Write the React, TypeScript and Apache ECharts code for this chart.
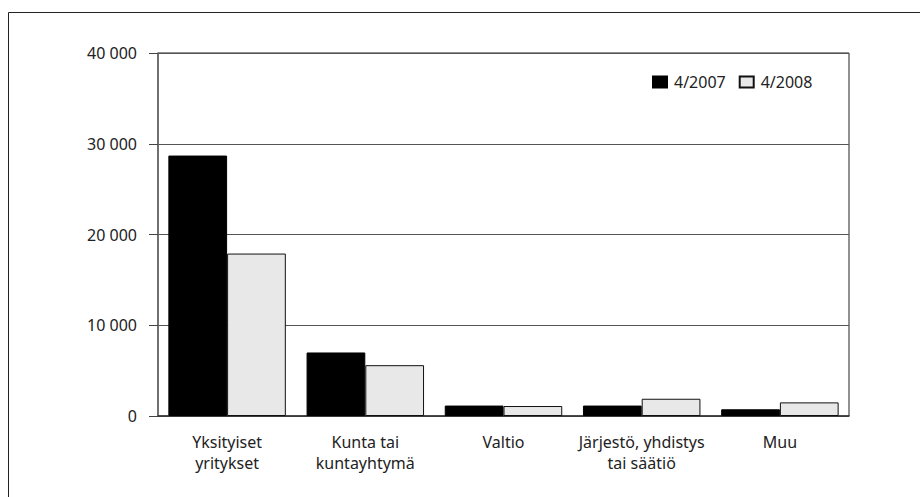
import React, { useEffect, useRef } from "react";
import * as echarts from "echarts";

const categories = [
  "Yksityiset\nyritykset",
  "Kunta tai\nkuntayhtymä",
  "Valtio",
  "Järjestö, yhdistys\ntai säätiö",
  "Muu",
];
const seriesNames = ["4/2007", "4/2008"];
const values2007 = [28700, 7000, 1150, 1150, 740];
const values2008 = [17900, 5600, 1100, 1900, 1500];

const FONT = "'Noto Sans', 'Open Sans', sans-serif";

export default function App() {
  const ref = useRef<HTMLDivElement>(null);
  useEffect(() => {
    document.body.style.margin = "0";
    const chart = echarts.init(ref.current!, null, { renderer: "svg" });
    chart.setOption({
      animation: false,
      backgroundColor: "#ffffff",
      textStyle: { fontFamily: FONT },
      graphic: [
        {
          type: "rect",
          shape: { x: 8.5, y: 12.5, width: 940, height: 520 },
          style: { fill: "none", stroke: "#222", lineWidth: 1 },
          silent: true,
        },
      ],
      legend: {
        left: 652,
        top: 74,
        padding: 0,
        itemWidth: 14,
        itemHeight: 11,
        itemGap: 13,
        icon: "rect",
        textStyle: { fontSize: 16, color: "#222", fontFamily: FONT, padding: [0, 0, 0, 2] },
        data: seriesNames,
      },
      grid: {
        left: 158,
        right: 71,
        top: 53,
        bottom: 81,
        show: true,
        borderColor: "#222",
        borderWidth: 1,
        containLabel: false,
      },
      xAxis: {
        type: "category",
        data: categories,
        axisTick: { show: false },
        axisLine: { lineStyle: { color: "#333", width: 1.5 } },
        axisLabel: {
          fontSize: 16,
          lineHeight: 21,
          color: "#222",
          margin: 15,
          fontFamily: FONT,
          interval: 0,
        },
      },
      yAxis: {
        type: "value",
        min: 0,
        max: 40000,
        interval: 10000,
        axisLine: { show: true, lineStyle: { color: "#666", width: 1.5 } },
        axisTick: { show: true, length: 9, lineStyle: { color: "#444" } },
        splitLine: { lineStyle: { color: "#555", width: 1 } },
        axisLabel: {
          fontSize: 16,
          color: "#222",
          margin: 21,
          fontFamily: FONT,
          formatter: (v: number) => String(v).replace(/\B(?=(\d{3})+(?!\d))/g, " "),
        },
      },
      series: [
        {
          name: seriesNames[0],
          type: "bar",
          data: values2007,
          barGap: "0%",
          barCategoryGap: "15%",
          itemStyle: { color: "#000000", borderColor: "#000", borderWidth: 1 },
        },
        {
          name: seriesNames[1],
          type: "bar",
          data: values2008,
          barGap: "0%",
          barCategoryGap: "15%",
          itemStyle: { color: "#e8e8e8", borderColor: "#111", borderWidth: 1 },
        },
      ],
    });
    return () => chart.dispose();
  }, []);
  return <div ref={ref} style={{ width: 920, height: 497 }} />;
}
